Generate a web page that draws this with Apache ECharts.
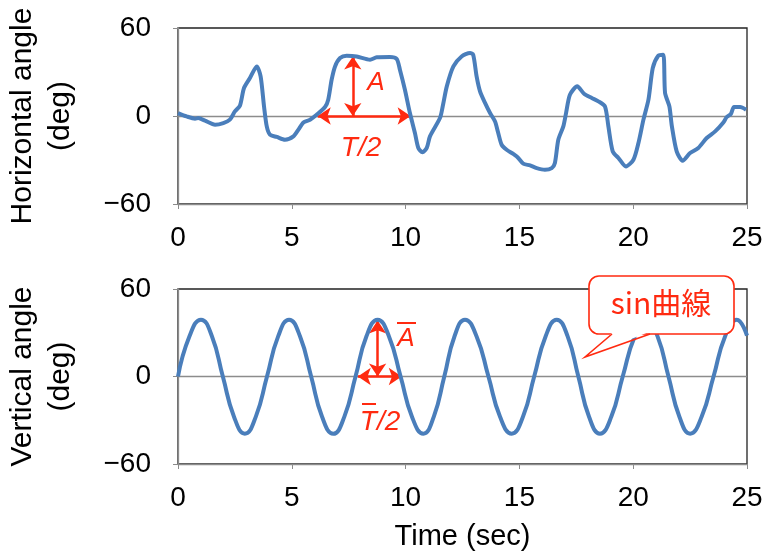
<!DOCTYPE html>
<html lang="en">
    <head>
        <meta charset="UTF-8">
        <script src="https://cdn.jsdelivr.net/npm/echarts@6/dist/echarts.min.js"></script>
        <title>Horizontal / Vertical angle</title>
        <style>
            body { margin: 0; background: #fff; }
        </style>
    </head>
    <body>
        <div id="chart-container" style="width: 769px; height: 552px;"></div>

        <script>
            // horizontal angle (deg)
            const hTime = [0, 0.38, 0.75, 0.89, 1.19, 1.63, 1.99, 2.28, 2.5, 2.72,
                2.9, 3.16, 3.46, 3.63, 3.78, 3.9, 4.04, 4.34, 4.7, 5.07,
                5.29, 5.51, 5.8, 6.09, 6.46, 6.6, 6.75, 6.9, 7.12, 7.41,
                7.85, 8.44, 8.73, 9.31, 9.61, 9.75, 9.97, 10.19, 10.41, 10.56,
                10.74, 10.93, 11.07, 11.51, 11.63, 11.81, 12.1, 12.46, 12.83, 12.97,
                13.12, 13.27, 13.49, 13.71, 13.93, 14.07, 14.22, 14.44, 14.73, 14.95,
                15.17, 15.47, 15.76, 16.12, 16.42, 16.56, 16.71, 16.93, 17.05, 17.22,
                17.54, 17.84, 18.18, 18.47, 18.76, 18.91, 19.1, 19.35, 19.68, 20.01,
                20.23, 20.45, 20.67, 20.86, 21.1, 21.32, 21.4, 21.59, 21.7, 21.91,
                22.17, 22.5, 22.86, 23.23, 23.6, 23.96, 24.11, 24.29, 24.43, 24.7,
                24.96];
            const hAngle = [2, -0.3, -1.8, -1.4, -3.2, -5.9, -4.8, -2.5, 3.1, 7,
                19.1, 25.9, 33.8, 27, 6.5, -7.1, -12.7, -14.3, -16.2, -13.9,
                -9.3, -4.4, -2.5, 0.9, 6.1, 11.1, 24.7, 33.8, 39.5, 41.1,
                40.6, 38.4, 40, 40.2, 38.9, 31.6, 17.9, 2, -11.6, -21.8,
                -24.8, -21.8, -13.9, -1.4, 6.5, 20.2, 33.8, 40.6, 43, 41.8,
                27, 16.8, 8.9, 2, -3.7, -11.6, -19.6, -23, -25.9, -28.6,
                -32.5, -33.7, -35.5, -36.6, -35.5, -32, -16.2, -7.1, 2, 14.5,
                20.2, 15.2, 12.3, 10, 6.5, -7.1, -24.1, -28.6, -34.4, -29.8,
                -18.4, -2.5, 11.1, 32.7, 41.1, 41.8, 15.7, 6.5, -7.1, -24.1,
                -30.5, -25.2, -21.8, -15, -10.5, -4.4, -0.7, 1.4, 6.1, 6.1,
                4.3];

            // vertical angle (deg), the sin curve in the lower panel
            const vTime = [0, 0.5, 1.01, 1.49, 1.97, 2.46, 2.94, 3.42, 3.91,
                4.4, 4.88, 5.36, 5.85, 6.33, 6.82, 7.31, 7.8,
                8.28, 8.77, 9.27, 9.78, 10.28, 10.78, 11.24, 11.7,
                12.15, 12.61, 13.12, 13.64, 14.15, 14.66, 15.16, 15.65,
                16.15, 16.64, 17.12, 17.59, 18.06, 18.54, 19.04, 19.54,
                20.07, 20.59, 21.07, 21.55, 22.03, 22.5, 23.01, 23.53,
                24.04, 24.55, 25];
            const vAngle = [0, 27.4, 39, 27.6, 0, -27.6, -39.2, -27.5, 0,
                27.5, 39, 27.6, 0, -27.6, -39.3, -27.5, 0,
                27.6, 39, 27.5, 0, -27.6, -39.2, -27.5, 0,
                27.6, 39, 27.5, 0, -27.6, -39.2, -27.5, 0,
                27.5, 39, 27.5, 0, -27.6, -39.2, -27.5, 0,
                27.6, 39, 27.5, 0, -27.6, -39.2, -27.5, 0,
                27.6, 39, 28];

            const xTicks = [0, 5, 10, 15, 20, 25];
            const yTicks = [-60, 0, 60];

            const chart = echarts.init(document.getElementById('chart-container'));

            const blue = '#4a7ebb';
            const red = '#ff2a10';
            const font = '"Liberation Sans", Arial, sans-serif';
            const grey = '#8c8c8c';

            function xAxisFor(gridIndex, extra) {
                return Object.assign({
                    gridIndex: gridIndex,
                    type: 'value',
                    min: xTicks[0],
                    max: xTicks[xTicks.length - 1],
                    interval: xTicks[1] - xTicks[0],
                    axisLine: { show: true, onZero: false, lineStyle: { color: grey, width: 1.3 } },
                    axisTick: { show: true, length: 5, lineStyle: { color: grey } },
                    axisLabel: { fontSize: 28, fontFamily: font, color: '#000', margin: 20 },
                    splitLine: { show: false }
                }, extra || {});
            }

            function yAxisFor(gridIndex, name) {
                return {
                    gridIndex: gridIndex,
                    type: 'value',
                    min: yTicks[0],
                    max: yTicks[yTicks.length - 1],
                    interval: yTicks[1] - yTicks[0],
                    name: name,
                    nameLocation: 'middle',
                    nameRotate: 90,
                    nameGap: 98,
                    nameTextStyle: { fontSize: 30, fontFamily: font, color: '#000', lineHeight: 38 },
                    axisLine: { show: true, lineStyle: { color: grey, width: 1.3 } },
                    axisTick: { show: true, length: 5, lineStyle: { color: grey } },
                    axisLabel: {
                        fontSize: 28, fontFamily: font, color: '#000', margin: 27,
                        formatter: v => String(v).replace('-', '\u2212')
                    },
                    splitLine: { show: false }
                };
            }

            // red double arrows, kept as mark lines in data coords
            function arrow(a, b) {
                return [
                    { coord: a, symbol: 'arrow', symbolSize: 13, lineStyle: { color: red, width: 2.5, type: 'solid' } },
                    { coord: b, symbol: 'arrow', symbolSize: 13 }
                ];
            }
            const zeroLine = { yAxis: 0, lineStyle: { color: grey, width: 1.3, type: 'solid' } };

            const options = {
                animation: false,
                backgroundColor: '#fff',
                grid: [
                    { left: 178, top: 28, width: 569, height: 176, show: true, borderColor: '#222', borderWidth: 1.3, outerBoundsMode: 'none' },
                    { left: 178, top: 289, width: 569, height: 175, show: true, borderColor: '#222', borderWidth: 1.3, outerBoundsMode: 'none' }
                ],
                xAxis: [
                    xAxisFor(0),
                    xAxisFor(1, {
                        name: 'Time (sec)',
                        nameLocation: 'middle',
                        nameGap: 58,
                        nameTextStyle: { fontSize: 29, fontFamily: font, color: '#000' }
                    })
                ],
                yAxis: [
                    yAxisFor(0, 'Horizontal angle\n(deg)'),
                    yAxisFor(1, 'Vertical angle\n(deg)')
                ],
                series: [
                    {
                        type: 'line',
                        xAxisIndex: 0,
                        yAxisIndex: 0,
                        data: hTime.map((t, i) => [t, hAngle[i]]),
                        showSymbol: false,
                        smooth: 0.25,
                        lineStyle: { color: blue, width: 4 },
                        z: 3,
                        markLine: {
                            silent: true,
                            symbol: 'none',
                            label: { show: false },
                            z: 2,
                            data: [
                                zeroLine,
                                arrow([7.68, 0], [7.68, 40.6]),
                                arrow([6.14, 0], [10.22, 0])
                            ]
                        }
                    },
                    {
                        type: 'line',
                        xAxisIndex: 1,
                        yAxisIndex: 1,
                        data: vTime.map((t, i) => [t, vAngle[i]]),
                        showSymbol: false,
                        smooth: 0.5,
                        lineStyle: { color: blue, width: 4 },
                        z: 3,
                        markLine: {
                            silent: true,
                            symbol: 'none',
                            label: { show: false },
                            z: 2,
                            data: [
                                zeroLine,
                                arrow([8.77, 0], [8.77, 38.4]),
                                arrow([7.9, 0], [9.83, 0])
                            ]
                        }
                    }
                ],
                graphic: [
                    { type: 'text', x: 376, y: 83, z: 10, style: { text: 'A', fill: red, font: 'italic 26px ' + font, textAlign: 'center', textVerticalAlign: 'middle' } },
                    { type: 'text', x: 361, y: 148, z: 10, style: { text: 'T/2', fill: red, font: 'italic 28px ' + font, textAlign: 'center', textVerticalAlign: 'middle' } },
                    { type: 'text', x: 406, y: 339, z: 10, style: { text: 'A', fill: red, font: 'italic 26px ' + font, textAlign: 'center', textVerticalAlign: 'middle' } },
                    { type: 'line', z: 10, shape: { x1: 397, y1: 323, x2: 416, y2: 323 }, style: { stroke: red, lineWidth: 2 } },
                    { type: 'text', x: 380, y: 422, z: 10, style: { text: 'T/2', fill: red, font: 'italic 28px ' + font, textAlign: 'center', textVerticalAlign: 'middle' } },
                    { type: 'line', z: 10, shape: { x1: 362, y1: 404, x2: 376, y2: 404 }, style: { stroke: red, lineWidth: 2 } },
                    // callout box
                    { type: 'rect', z: 20, shape: { x: 589, y: 276, width: 145, height: 58, r: 10 }, style: { fill: '#fff', stroke: red, lineWidth: 1.6 } },
                    { type: 'polygon', z: 21, shape: { points: [[613, 332], [585, 357], [649, 332]] }, style: { fill: '#fff' } },
                    { type: 'polyline', z: 22, shape: { points: [[612, 334], [585, 357], [650, 334]] }, style: { stroke: red, lineWidth: 1.6, fill: null } },
                    { type: 'text', x: 661, y: 303, z: 23, style: { text: 'sin曲線', fill: red, font: '30px "Noto Sans CJK JP", sans-serif', textAlign: 'center', textVerticalAlign: 'middle' } }
                ]
            };

            chart.setOption(options);
        </script>
    </body>
</html>
